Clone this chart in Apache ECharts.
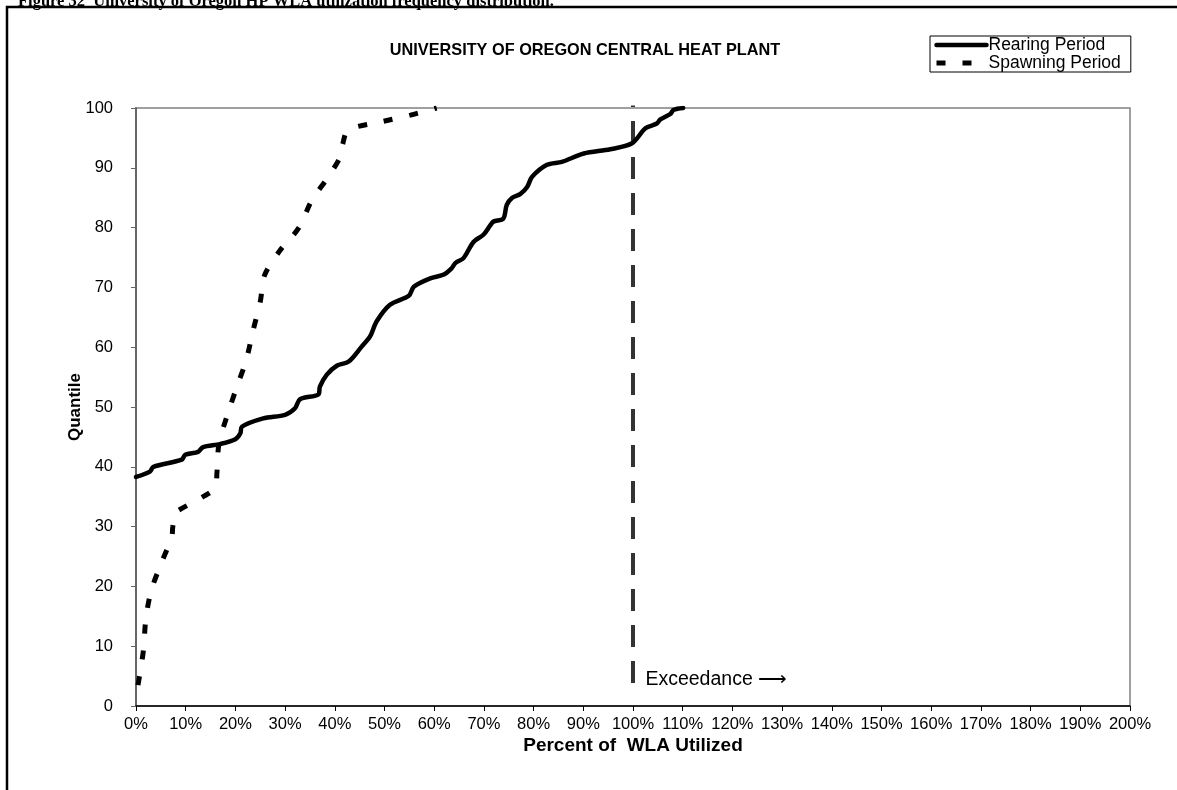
<!DOCTYPE html>
<html>
<head>
<meta charset="utf-8">
<script src="https://cdn.jsdelivr.net/npm/echarts@6/dist/echarts.min.js"></script>
<style>
html,body{margin:0;padding:0;background:#fff;}
#chart{width:1177px;height:790px;}
</style>
</head>
<body>
<div id="chart"></div>
<script>
// ---- data ----
const chartTitle = 'UNIVERSITY OF OREGON CENTRAL HEAT PLANT';
const caption = 'Figure 32  University of Oregon HP WLA utilization frequency distribution.';
const xAxisName = 'Percent of  WLA Utilized';
const yAxisName = 'Quantile';
const seriesNames = ['Rearing Period', 'Spawning Period'];

const rearingPct = [0, 2.8, 3.5, 9.2, 9.9, 12.5, 13.5, 16.9, 20.0, 21.0, 21.3, 25.6, 30.0, 32.0, 33.0, 36.7, 37.0, 38.4, 40.4, 42.8, 45.4, 47.1, 48.4, 51.1, 54.9, 55.9, 59.2, 61.8, 63.5, 64.3, 65.9, 67.9, 69.9, 71.3, 71.9, 73.9, 74.6, 75.7, 77.3, 78.7, 79.7, 82.7, 85.7, 90.1, 95.4, 99.8, 102.5, 104.8, 105.5, 107.5, 108.2, 110.1];
const rearingQ   = [38.3, 39.2, 40.0, 41.2, 42.0, 42.5, 43.3, 43.8, 44.6, 45.6, 46.7, 48.1, 48.7, 49.8, 51.3, 52.1, 53.4, 55.4, 56.9, 57.6, 60.1, 61.8, 64.3, 67.1, 68.6, 70.1, 71.5, 72.1, 73.2, 74.1, 74.9, 77.6, 78.8, 80.4, 81.0, 81.5, 83.8, 85.0, 85.6, 86.8, 88.5, 90.5, 91.0, 92.4, 93.1, 94.1, 96.6, 97.4, 98.1, 99.0, 99.7, 100];

const spawningPct = [0.4, 1.0, 1.5, 2.0, 3.1, 5.1, 7.2, 7.4, 7.9, 8.5, 13.5, 15.9, 16.3, 16.7, 18.4, 20.3, 22.2, 23.5, 25.0, 25.9, 29.0, 32.7, 35.4, 38.7, 41.2, 41.6, 42.7, 49.4, 55.2, 60.5];
const spawningQ   = [3.5, 6.5, 9.4, 14.7, 19.4, 23.9, 28.3, 30.0, 32.2, 32.7, 35.0, 36.5, 39.2, 43.9, 48.7, 53.4, 57.9, 62.6, 67.6, 72.1, 76.2, 79.9, 84.6, 88.5, 92.0, 94.0, 96.3, 97.7, 98.8, 100];

const wlaLimitPct = [100, 100];
const wlaLimitQ = [3.85, 100.4];
const exceedanceLabel = 'Exceedance \u27F6';
const exceedanceAt = [102.5, 4.4];

const zip = (a, b) => a.map((v, i) => [v, b[i]]);

const chart = echarts.init(document.getElementById('chart'), null, {renderer: 'canvas'});
const FONT = 'Liberation Sans, Arial, sans-serif';

const option = {
  animation: false,
  backgroundColor: '#fff',
  textStyle: {fontFamily: FONT, color: '#000'},
  title: {
    text: chartTitle,
    left: 580, top: 38, textAlign: 'center',
    textStyle: {fontFamily: FONT, fontSize: 16.3, fontWeight: 'bold', color: '#000'}
  },
  legend: {
    data: seriesNames,
    orient: 'vertical',
    left: 930, top: 36,
    padding: [0, 10, 0, 4],
    itemGap: 0,
    itemWidth: 50, itemHeight: 15,
    backgroundColor: '#fff',
    borderColor: '#000', borderWidth: 1, borderRadius: 0,
    itemStyle: {opacity: 0},
    lineStyle: {width: 'inherit'},
    textStyle: {fontFamily: FONT, fontSize: 17.5, lineHeight: 15, height: 15, color: '#000', padding: [0, 0, 0, -3]}
  },
  grid: {
    left: 136, right: 47, top: 108, bottom: 84,
    show: true, borderColor: '#808080', borderWidth: 1.5
  },
  xAxis: {
    type: 'value', min: 0, max: 200, interval: 10,
    name: xAxisName, nameLocation: 'middle', nameGap: 30, nameMoveOverlap: false,
    nameTextStyle: {fontFamily: FONT, fontSize: 19, fontWeight: 'bold', color: '#000'},
    axisLine: {show: true, onZero: false, lineStyle: {color: '#000', width: 1.5}},
    axisTick: {show: true, inside: false, length: 5, lineStyle: {color: '#000'}},
    axisLabel: {formatter: '{value}%', fontFamily: FONT, fontSize: 16.5, color: '#000', margin: 10},
    splitLine: {show: false}
  },
  yAxis: {
    type: 'value', min: 0, max: 100, interval: 10,
    name: yAxisName, nameLocation: 'middle', nameGap: 52, nameRotate: 90, nameMoveOverlap: false,
    nameTextStyle: {fontFamily: FONT, fontSize: 17, fontWeight: 'bold', color: '#000'},
    axisLine: {show: true, onZero: false, lineStyle: {color: '#666', width: 2}},
    axisTick: {show: true, inside: false, length: 5, lineStyle: {color: '#666'}},
    axisLabel: {fontFamily: FONT, fontSize: 16.5, color: '#000', margin: 23},
    splitLine: {show: false}
  },
  series: [
    {
      name: seriesNames[0], type: 'line', data: zip(rearingPct, rearingQ),
      symbol: 'none', smooth: 0.3,
      lineStyle: {color: '#000', width: 4.5, cap: 'round', join: 'round'},
      itemStyle: {color: '#000'}, z: 3
    },
    {
      name: seriesNames[1], type: 'line', data: zip(spawningPct, spawningQ),
      symbol: 'none', smooth: 0.3,
      lineStyle: {color: '#000', width: 5, type: [9, 17], cap: 'butt'},
      itemStyle: {color: '#000'}, z: 3
    },
    {
      name: 'WLA', type: 'line', data: zip(wlaLimitPct, wlaLimitQ),
      symbol: 'none', clip: false, silent: true,
      lineStyle: {color: '#333', width: 4, type: [22, 14], cap: 'butt'},
      z: 2
    }
  ]
};
chart.setOption(option);

const p = chart.convertToPixel({gridIndex: 0}, exceedanceAt);
chart.setOption({
  graphic: [
    {
      type: 'rect', shape: {x: 7, y: 7, width: 1300, height: 1000},
      style: {fill: 'none', stroke: '#000', lineWidth: 2.5}, z: 0, silent: true
    },
    {
      type: 'text', left: 18, top: -7,
      style: {text: caption, font: 'bold 16.5px "Liberation Serif", "Times New Roman", serif', fill: '#000'},
      z: 10
    },
    {
      type: 'text', x: p[0], y: p[1],
      style: {text: exceedanceLabel, font: '19.5px ' + FONT, fill: '#000', textAlign: 'left', textVerticalAlign: 'middle'},
      z: 10
    }
  ]
});
</script>
</body>
</html>
